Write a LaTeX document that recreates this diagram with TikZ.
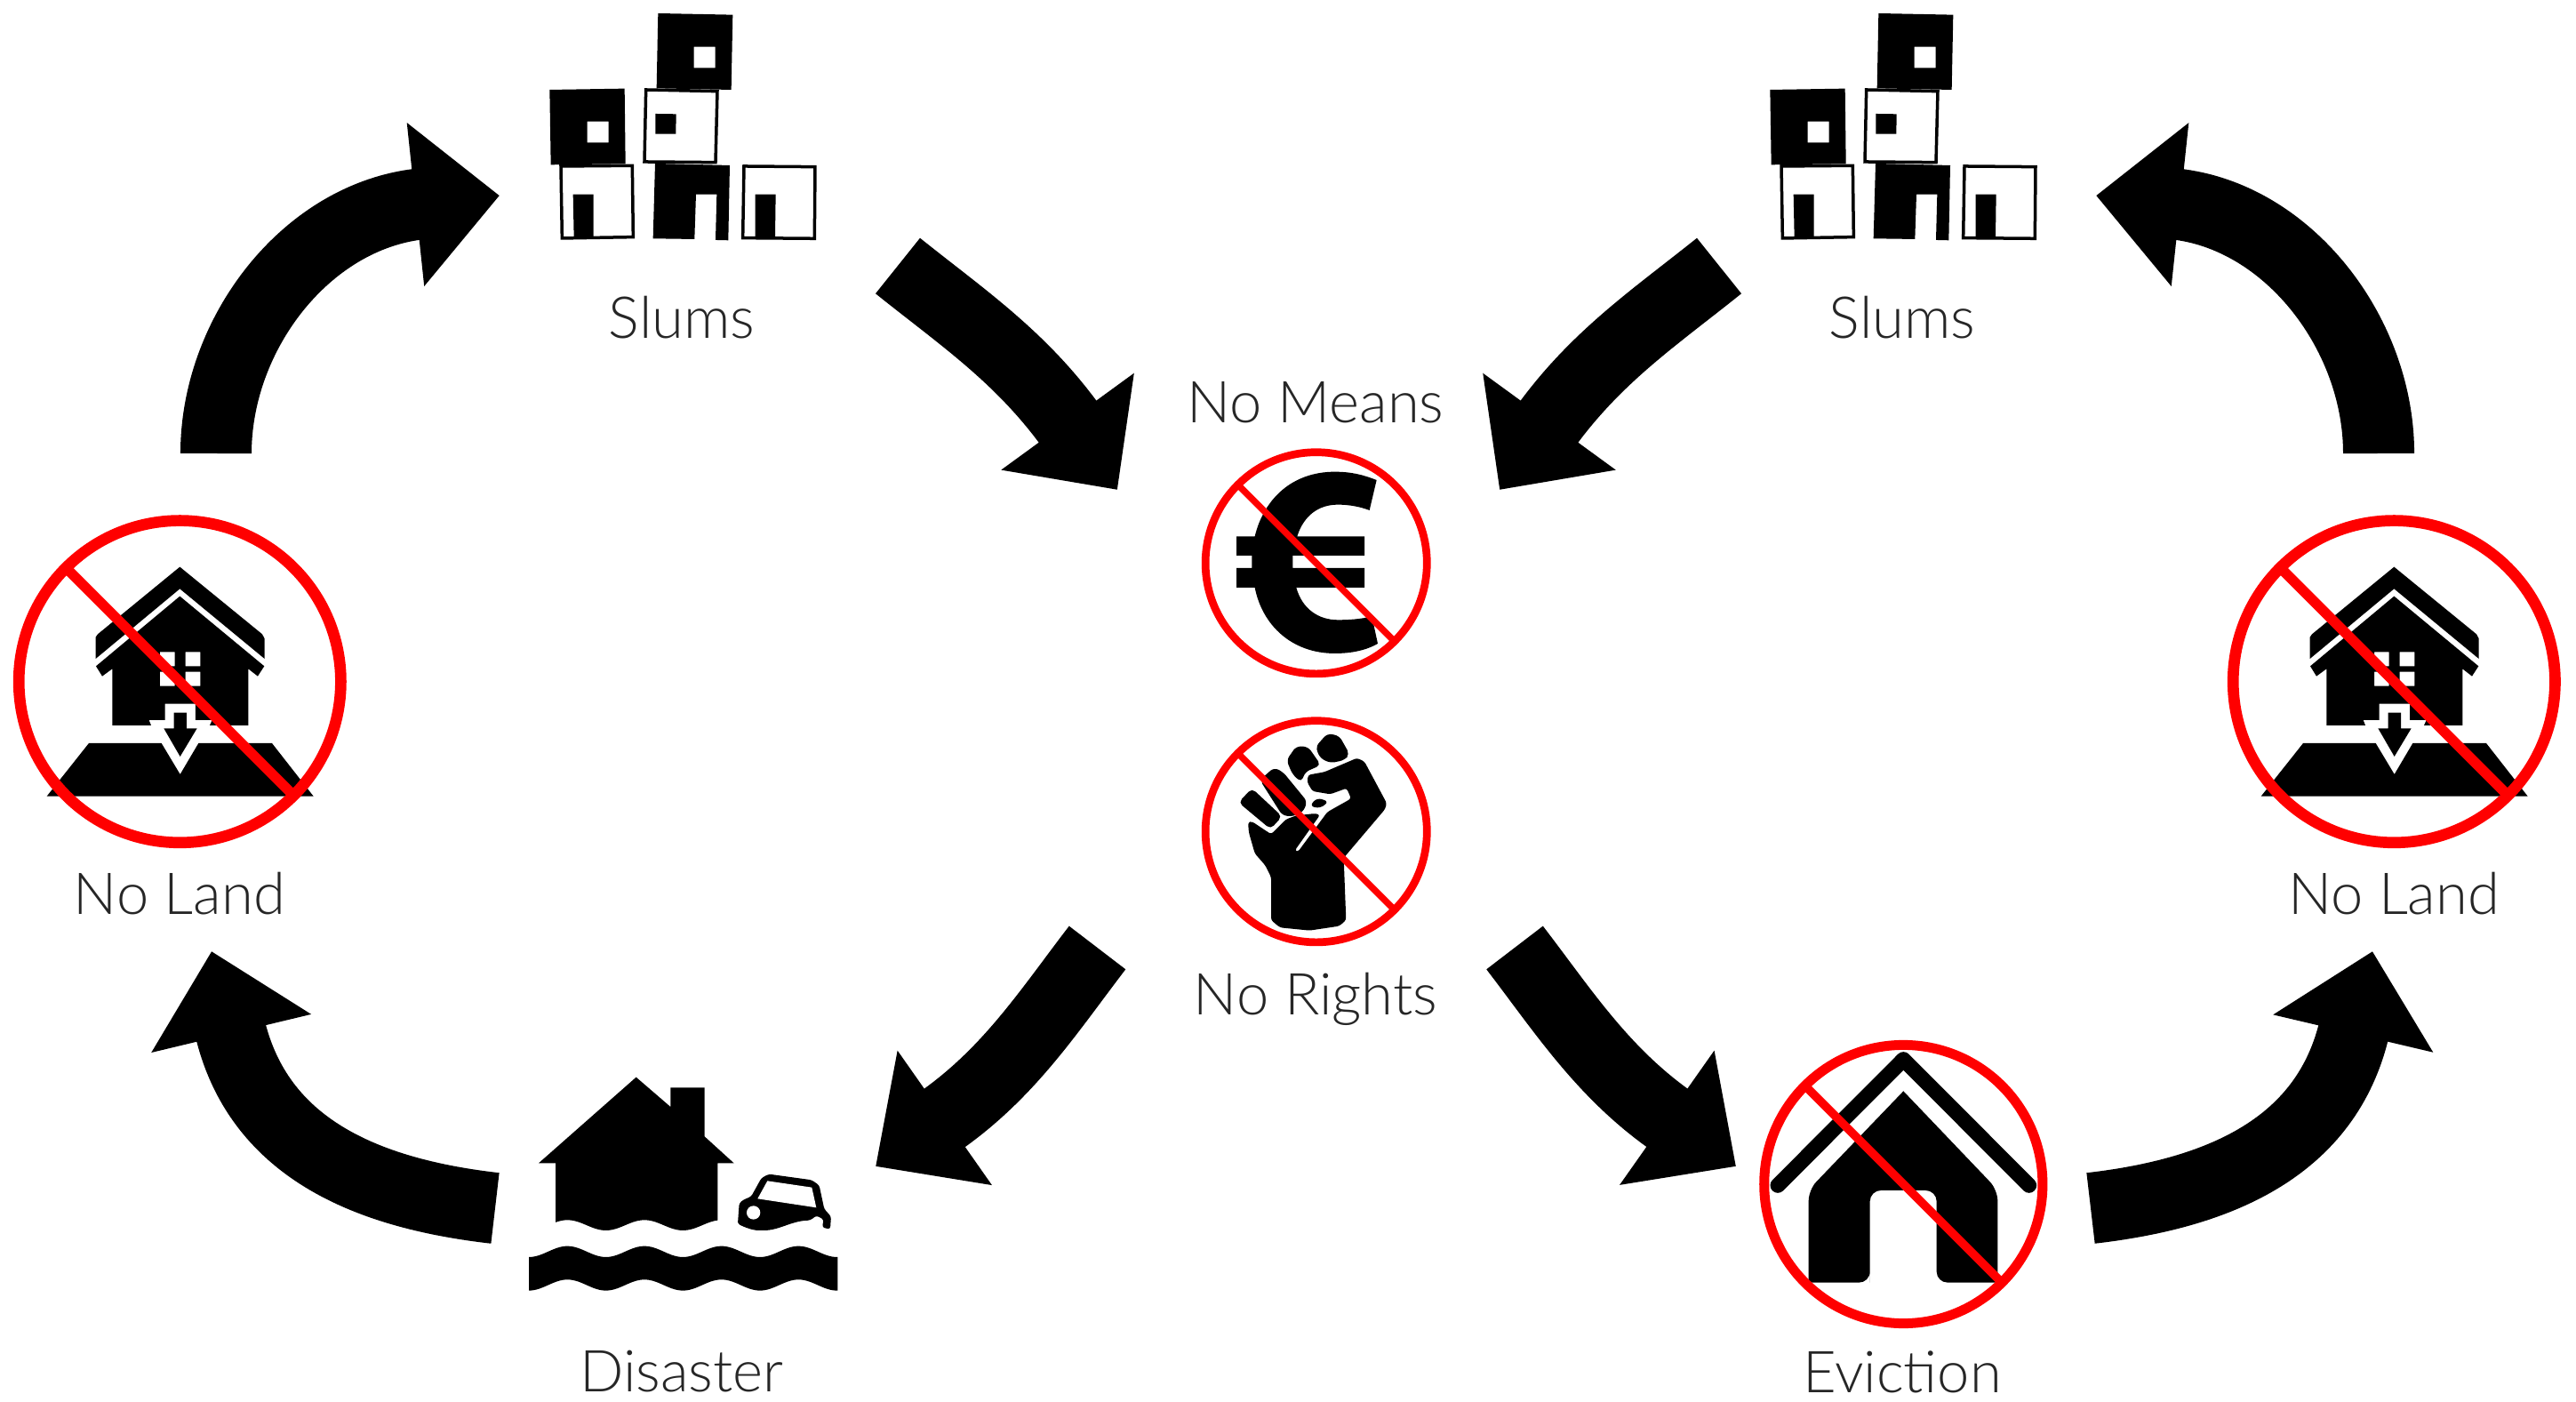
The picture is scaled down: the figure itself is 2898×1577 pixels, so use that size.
\documentclass[tikz,border=0pt]{standalone}
\usepackage{fontspec}
\setmainfont{Lato Light}
\usetikzlibrary{arrows.meta}
\begin{document}
\begin{tikzpicture}[x=0.01cm,y=-0.01cm,
	>={Triangle[length=0.95cm,width=1.79cm]},
	bigarrow/.style={->,line width=0.8cm},
	caption/.style={font=\fontsize{18.5}{22}\selectfont,text=black!85},
	nosign/.style={circle,draw=red,inner sep=0pt,outer sep=0pt},
	slash/.style={draw=red},
	frame/.style={draw=black,fill=white,line width=0.035cm}]
\useasboundingbox (0,0) rectangle (2898,1577);
\foreach \x in {0,1373}{
\begin{scope}[shift={(590+\x,0)},scale=0.3333]
\fill[even odd rule] (451,45)--(703,50)--(698,303)--(446,298)--cycle
	(572,158)--(644,158)--(644,229)--(572,229)--cycle;
\fill[even odd rule] (85,303)--(338,299)--(341,553)--(89,556)--cycle
	(212,410)--(284,410)--(284,481)--(212,481)--cycle;
\draw[frame] (410,303)--(651,308)--(645,548)--(405,546)--cycle;
\fill (442,384)--(512,385)--(511,452)--(442,452)--cycle;
\draw[frame] (123,561)--(364,559)--(367,800)--(127,804)--cycle;
\fill (164,656)--(233,656)--(233,800)--(167,802)--cycle;
\fill (441,552)--(693,558)--(688,811)--(645,810)--(649,656)--(579,656)
	--(574,807)--(434,805)--cycle;
\draw[frame] (741,561)--(981,563)--(979,805)--(737,803)--cycle;
\fill (779,656)--(848,656)--(846,803)--(779,803)--cycle;
\end{scope}
\node[caption] (slums\x) at (767+\x,357) {Slums};
};
\foreach \x in {0,2491}{
\begin{scope}[shift={(\x,570)},scale=0.3333]
\fill (607,203)--(885,430)--(893,445)--(893,513)--(607,277)
	--(323,513)--(323,440)--(330,430)--cycle;
\fill[even odd rule] (607,302)--(892,538)--(870,572)--(838,547)--(838,738)
	--(708,738)--(716,720)--(660,720)--(660,665)--(557,665)--(557,720)
	--(503,720)--(510,738)--(379,738)--(379,547)--(345,572)--(324,538)--cycle
	(540,490)--(590,490)--(590,538)--(540,538)--cycle
	(626,490)--(676,490)--(676,538)--(626,538)--cycle
	(540,557)--(590,557)--(590,605)--(540,605)--cycle
	(626,557)--(676,557)--(676,605)--(626,605)--cycle;
\fill (587,695)--(630,695)--(630,748)--(665,748)--(608,843)--(553,748)--(587,748)--cycle;
\fill (300,798)--(545,798)--(608,903)--(670,798)--(918,798)--(1058,977)--(158,977)--cycle;
\end{scope}
\node[nosign,minimum size=3.62cm,line width=0.127cm] (land\x) at (202.3+\x,766.7) {};
\draw[slash,line width=0.115cm] (land\x.135)--(land\x.-45);
\node[caption] (landtext\x) at (202+\x,1005) {No Land};
};
\begin{scope}[shift={(1330,490)},scale=0.3333]
\fill (656,150) .. controls (610,132) and (570,122) .. (515,122)
	.. controls (370,122) and (275,215) .. (245,340)--(183,340)--(183,405)--(235,405)
	--(235,447)--(183,447)--(183,513)--(245,513)
	.. controls (270,640) and (370,735) .. (515,735)
	.. controls (570,735) and (620,725) .. (660,702)--(640,610)
	.. controls (600,620) and (560,622) .. (525,622)
	.. controls (460,622) and (405,585) .. (385,513)--(615,513)--(615,447)--(373,447)
	--(373,405)--(615,405)--(615,340)--(388,340)
	.. controls (410,270) and (460,233) .. (525,233)
	.. controls (565,233) and (600,240) .. (632,252)--cycle;
\end{scope}
\node[nosign,minimum size=2.49cm,line width=0.087cm] (euro) at (1480.7,633.3) {};
\draw[slash,line width=0.075cm] (euro.135)--(euro.-45);
\node[caption] (means) at (1480,453) {No Means};
\begin{scope}[shift={(1330,790)},scale=0.3333,rounded corners=1.5pt]
\fill (190,338)--(235,290)--(337,385)--(298,428)--cycle;
\fill (262,262)--(310,220)--(340,235)--(422,335)--(408,370)--(375,385)--(338,382)--cycle;
\fill (352,195)--(385,148)--(425,150)--(468,212)--(415,235)--(402,270)--(372,243)--cycle;
\fill (450,150)--(490,105)--(530,113)--(565,175)--(548,195)--(500,205)--(465,188)--cycle;
\fill (430,350)--(455,322)--(495,335)--(465,358)--cycle;
\fill[rounded corners=0.8pt] (222,405)--(235,402)--(300,445)--(350,395)--(385,382)--(450,375)--(465,380)
	--(380,500)--(390,505)--(490,370)--(570,325)--(555,290)--(500,310)--(440,300)
	--(422,270)--(425,245)--(480,235)--(590,188)--(615,200)--(690,340)--(685,360)
	--(545,525)--(553,735)--(530,755)--(430,770)--(330,760)--(300,735)--(300,590)
	--(280,550)--(245,510)--(225,440)--cycle;
\end{scope}
\node[nosign,minimum size=2.49cm,line width=0.087cm] (fist) at (1480.7,935.3) {};
\draw[slash,line width=0.075cm] (fist.135)--(fist.-45);
\node[caption] (rights) at (1480,1124) {No Rights};
\begin{scope}[shift={(570,1190)},scale=0.3333]
\fill (437,65)--(553,165)--(553,100)--(668,100)--(668,265)--(767,355)--(712,355)
	--plot[domain=712:165,samples=60] (\x,{564.5-17.5*cos((\x-205)*1.3846)})
	--(165,355)--(108,355)--cycle;
\fill plot[domain=75:1117,samples=120] (\x,{653.5-18.5*cos((\x-205)*1.3846)})
	--plot[domain=1117:75,samples=120] (\x,{766.5-18.5*cos((\x-205)*1.3846)})--cycle;
\fill[rounded corners=0.8pt] (780,560)--(785,490)--(800,478)--(825,468)--(860,405)--(885,392)--(1030,412)
	--(1055,430)--(1072,510)--(1095,535)--(1092,578)--(1065,572)--(1070,545)--(1045,532)--(1025,548)
	.. controls (960,550) and (920,582) .. (860,582) .. controls (830,582) and (805,572) .. (780,560)--cycle;
\fill[white] (847,475)--(880,415)--(1030,437)--(1045,505)--cycle;
\fill[white] (833,522) circle (23);
\end{scope}
\node[caption] (disaster) at (767,1543) {Disaster};
\begin{scope}[shift={(1960,1150)},scale=0.3333]
\draw[line width=0.17cm,line cap=round,line join=round] (120,550)--(544,125)--(968,550);
\fill (431,878) [rounded corners=3.5pt]--(431,567)--(656,567)--(656,878)[sharp corners]--(862,878)
	[rounded corners=3.5pt]--(862,565)[sharp corners]--(544,232)[rounded corners=3.5pt]--(224,565)
	[sharp corners]--(224,878)[rounded corners=3.5pt]--(431,878)[sharp corners]--cycle;
\end{scope}
\node[nosign,minimum size=3.13cm,line width=0.11cm] (evict) at (2141.3,1332) {};
\draw[slash,line width=0.095cm] (evict.135)--(evict.-45);
\node[caption] (eviction) at (2140,1543) {Eviction};
\draw[bigarrow] ([shift={(40.7,-256.7)}]land0.center) .. controls (243,375) and (345,243)
	.. ([shift={(-205,-137)}]slums0.center);
\draw[bigarrow] ([shift={(-17.3,-256.7)}]land2491.center) .. controls (2676,375) and (2574,243)
	.. ([shift={(218,-137)}]slums1373.center);
\draw[bigarrow] ([shift={(243,-58)}]slums0.center) .. controls (1081,356) and (1147,400)
	.. ([shift={(-223.7,-82.3)}]euro.center);
\draw[bigarrow] ([shift={(-206,-58)}]slums1373.center) .. controls (1863,356) and (1797,400)
	.. ([shift={(206.3,-82.3)}]euro.center);
\draw[bigarrow] ([shift={(-246.2,130.7)}]fist.center) .. controls (1180,1137) and (1136,1206)
	.. ([shift={(218,-231)}]disaster.center);
\draw[bigarrow] ([shift={(223.3,130.7)}]fist.center) .. controls (1758.5,1137) and (1802.5,1206)
	.. ([shift={(-188.3,-20)}]evict.center);
\draw[bigarrow] ([shift={(-210,-184)}]disaster.center) .. controls (408,1342) and (290.5,1289)
	.. ([shift={(35.7,303.3)}]land0.center);
\draw[bigarrow] ([shift={(210.7,27)}]evict.center) .. controls (2500,1342) and (2617.5,1289)
	.. ([shift={(-24.3,303.3)}]land2491.center);
\end{tikzpicture}
\end{document}
